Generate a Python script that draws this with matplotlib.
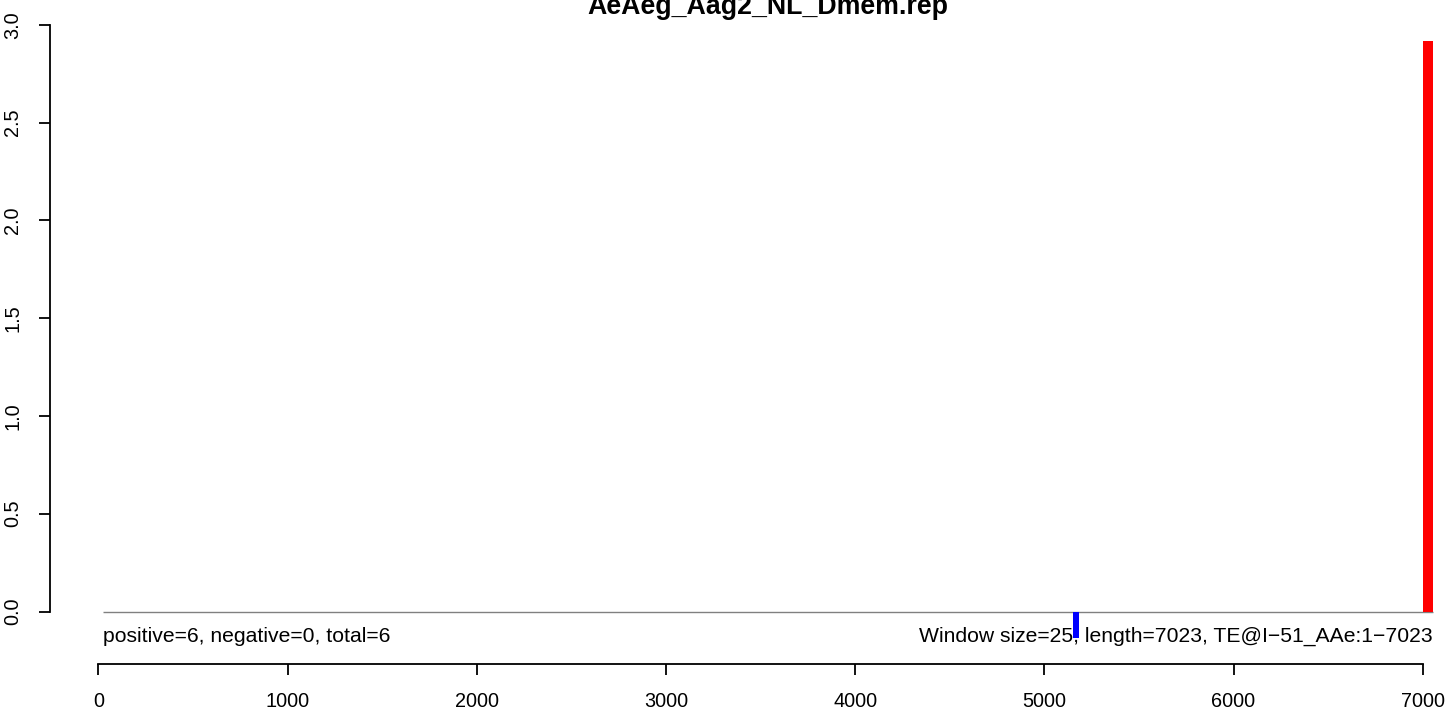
import matplotlib
matplotlib.use("Agg")
import matplotlib.pyplot as plt

plt.rcParams["font.family"] = ["Liberation Sans", "DejaVu Sans"]

TITLE = "AeAeg_Aag2_NL_Dmem.rep"
LEFT_NOTE = "positive=6, negative=0, total=6"
RIGHT_NOTE = "Window size=25, length=7023, TE@I\u221251_AAe:1\u22127023"

# signal windows: start position, end position, value
win_start = [5150, 7000]
win_end = [5182, 7053]
win_value = [-0.135, 2.917]
win_color = ["#0000FF", "#FF0000"]

baseline_span = [24, 7053]
x_ticks = [0, 1000, 2000, 3000, 4000, 5000, 6000, 7000]
y_ticks = [0.0, 0.5, 1.0, 1.5, 2.0, 2.5, 3.0]

W, H = 1450, 713
fig = plt.figure(figsize=(W / 100, H / 100), dpi=100)
ax = fig.add_axes([98.3 / W, (H - 611.5) / H, 1324.4 / W, 586.8 / H])
ax.set_xlim(0, 7000)
ax.set_ylim(0, 3)

# baseline
ax.plot(baseline_span, [0, 0], color="#808080", lw=1.0, clip_on=False,
        solid_capstyle="butt", zorder=2)

for s, e, v, c in zip(win_start, win_end, win_value, win_color):
    ax.bar(s, v, width=e - s, align="edge", color=c, lw=0,
           clip_on=False, zorder=3)

ax.text(24, -0.156, LEFT_NOTE, ha="left", va="baseline", fontsize=15.2,
        clip_on=False, zorder=1)
ax.text(7053, -0.156, RIGHT_NOTE, ha="right", va="baseline", fontsize=15.2,
        clip_on=False, zorder=1)

for side in ("top", "right"):
    ax.spines[side].set_visible(False)
ax.spines["left"].set_position(("outward", 34.6))
ax.spines["bottom"].set_position(("outward", 37.8))
ax.spines["left"].set_bounds(0, 3)
ax.spines["bottom"].set_bounds(0, 7000)
for side in ("left", "bottom"):
    ax.spines[side].set_linewidth(1.3)

ax.set_xticks(x_ticks)
ax.set_xticklabels([str(t) for t in x_ticks])
ax.set_yticks(y_ticks)
ax.set_yticklabels([f"{t:.1f}" for t in y_ticks], rotation=90, va="center")
ax.tick_params(axis="both", direction="out", length=8, width=1.3,
               labelsize=14.3)
ax.tick_params(axis="x", pad=12)
ax.tick_params(axis="y", pad=12)

fig.text(768 / W, 1 - 13.5 / H, TITLE, ha="center", va="baseline",
         fontsize=19.3, fontweight="bold")

fig.savefig("out.png", dpi=100)
